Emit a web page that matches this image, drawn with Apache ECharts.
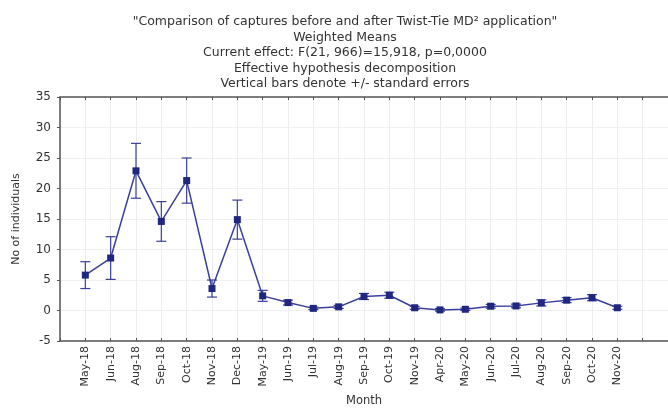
<!DOCTYPE html>
<html>
<head>
<meta charset="utf-8">
<script src="https://cdn.jsdelivr.net/npm/echarts@6/dist/echarts.min.js"></script>
<style>
html,body{margin:0;padding:0;background:#fff;}
#chart{width:668px;height:412px;}
</style>
</head>
<body>
<div id="chart"></div>
<script>
var months = ['May-18','Jun-18','Aug-18','Sep-18','Oct-18','Nov-18','Dec-18','May-19','Jun-19','Jul-19','Aug-19','Sep-19','Oct-19','Nov-19','Apr-20','May-20','Jun-20','Jul-20','Aug-20','Sep-20','Oct-20','Nov-20'];
var means = [5.8, 8.6, 22.9, 14.6, 21.3, 3.6, 14.9, 2.4, 1.3, 0.35, 0.6, 2.3, 2.5, 0.45, 0.1, 0.2, 0.7, 0.75, 1.25, 1.7, 2.1, 0.45];
var stdErrs = [2.2, 3.5, 4.5, 3.25, 3.7, 1.4, 3.2, 0.9, 0.4, 0.2, 0.25, 0.5, 0.5, 0.25, 0.2, 0.2, 0.3, 0.3, 0.5, 0.4, 0.5, 0.25];
var yTicks = [-5, 0, 5, 10, 15, 20, 25, 30, 35];
var titleLines = [
  '"Comparison of captures before and after Twist-Tie MD\u00B2 application"',
  'Weighted Means',
  'Current effect: F(21, 966)=15,918, p=0,0000',
  'Effective hypothesis decomposition',
  'Vertical bars denote +/- standard errors'
];

var lineData = means.map(function (v, i) { return [i, v]; });
var errData = means.map(function (v, i) { return [i, v - stdErrs[i], v + stdErrs[i]]; });
var blue = '#3b3f9c';
var navy = '#20277f';
var font = 'DejaVu Sans, Arial, sans-serif';

var chart = echarts.init(document.getElementById('chart'), null, {renderer: 'canvas'});
chart.setOption({
  animation: false,
  backgroundColor: '#ffffff',
  title: {
    text: titleLines.join('\n'),
    left: 340,
    textAlign: 'center',
    top: 9,
    textStyle: {fontFamily: font, fontSize: 12.5, fontWeight: 'normal', color: '#333', lineHeight: 15.5}
  },
  grid: {left: 60, right: -4, top: 97, bottom: 65},
  xAxis: [{
    type: 'value',
    min: -1, max: 23, interval: 1,
    name: 'Month',
    nameLocation: 'middle',
    nameGap: 54,
    nameTextStyle: {fontFamily: font, fontSize: 11.5, color: '#333'},
    axisLine: {show: true, onZero: false, lineStyle: {color: '#555', width: 1.5}},
    axisTick: {show: true, inside: true, length: 3, lineStyle: {color: '#555'}},
    splitLine: {show: true, lineStyle: {color: '#ececec', width: 1}},
    axisLabel: {
      rotate: 90, fontFamily: font, fontSize: 11, color: '#333', margin: 5,
      formatter: function (v) { return months[v] || ''; }
    }
  }, {
    type: 'value',
    position: 'top',
    min: -1, max: 23, interval: 1,
    axisLine: {show: true, onZero: false, lineStyle: {color: '#555', width: 1.5}},
    axisTick: {show: true, inside: true, length: 3, lineStyle: {color: '#555'}},
    axisLabel: {show: false},
    splitLine: {show: false}
  }],
  yAxis: {
    type: 'value',
    min: yTicks[0], max: yTicks[yTicks.length - 1], interval: 5,
    name: 'No of individuals',
    nameLocation: 'middle',
    nameGap: 38,
    nameTextStyle: {fontFamily: font, fontSize: 11, color: '#333'},
    axisLine: {show: true, onZero: false, lineStyle: {color: '#555', width: 1.5}},
    axisTick: {show: true, length: 3, lineStyle: {color: '#555'}},
    splitLine: {show: true, lineStyle: {color: '#f0f0f0'}},
    axisLabel: {fontFamily: font, fontSize: 12, color: '#333', margin: 9}
  },
  series: [{
    type: 'custom',
    data: errData,
    z: 3,
    renderItem: function (params, api) {
      var x = api.value(0);
      var lo = api.coord([x, api.value(1)]);
      var hi = api.coord([x, api.value(2)]);
      var w = 5;
      var st = {stroke: blue, lineWidth: 1.2};
      return {
        type: 'group',
        children: [
          {type: 'line', shape: {x1: lo[0], y1: lo[1], x2: hi[0], y2: hi[1]}, style: st},
          {type: 'line', shape: {x1: lo[0] - w, y1: lo[1], x2: lo[0] + w, y2: lo[1]}, style: st},
          {type: 'line', shape: {x1: hi[0] - w, y1: hi[1], x2: hi[0] + w, y2: hi[1]}, style: st}
        ]
      };
    }
  }, {
    type: 'line',
    data: lineData,
    z: 4,
    symbol: 'rect',
    symbolSize: 7,
    lineStyle: {color: blue, width: 1.5},
    itemStyle: {color: navy}
  }]
});
</script>
</body>
</html>
